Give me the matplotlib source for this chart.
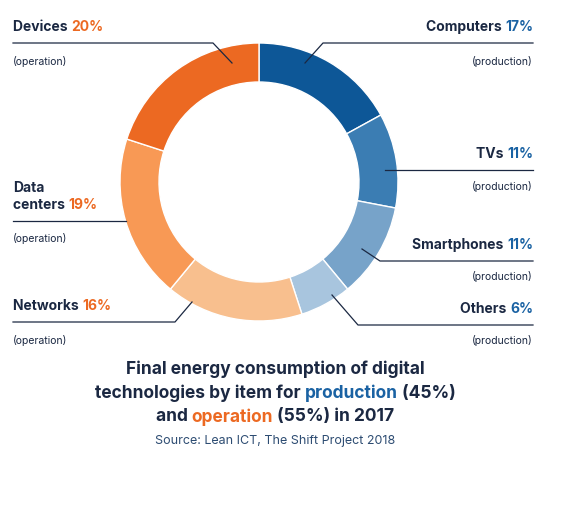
import matplotlib.pyplot as plt

labels = ["Computers", "TVs", "Smartphones", "Others", "Networks", "Data centers", "Devices"]
shares = [17, 11, 11, 6, 16, 19, 20]
kinds = ["production"] * 4 + ["operation"] * 3
colors = ["#0d5797", "#3b7db3", "#77a3c9", "#a8c5de", "#f8bf8e", "#f89955", "#ec6922"]

W, H = 568, 506
NAVY = "#1b2842"
BLUE = "#1a62a3"
ORANGE = "#ec6922"
plt.rcParams["font.family"] = ["Inter", "DejaVu Sans"]

fig = plt.figure(figsize=(W / 100, H / 100), dpi=100)
ax = fig.add_axes([0, 0, 1, 1])
ax.pie(shares, colors=colors, center=(259, H - 183), radius=139, startangle=90,
       counterclock=False, wedgeprops=dict(width=39, edgecolor="white", linewidth=1))
ax.set_xlim(0, W)
ax.set_ylim(0, H)
ax.set_aspect("equal")
ax.axis("off")
renderer = fig.canvas.get_renderer()


def seg_line(x, y, parts, size, ha="left"):
    # draw coloured pieces on one line; x,y in pixel coords from the top-left
    widths = []
    for text, col in parts:
        t = ax.text(0, 0, text, fontsize=size, fontweight="bold")
        widths.append(t.get_window_extent(renderer).width)
        t.remove()
    total = sum(widths)
    start = {"left": x, "right": x - total, "center": x - total / 2}[ha]
    for (text, col), w in zip(parts, widths):
        ax.text(start, H - y, text, fontsize=size, fontweight="bold", color=col,
                va="center", ha="left")
        start += w


def line(pts):
    ax.plot([p[0] for p in pts], [H - p[1] for p in pts], color=NAVY, lw=0.9)


layout = {
    "Computers": (27, 61, [(533, 44), (323, 44), (305, 64)], "right"),
    "TVs": (154, 187, [(533, 171), (385, 171)], "right"),
    "Smartphones": (245, 277, [(533, 262), (380, 262), (362, 250)], "right"),
    "Others": (309, 341, [(533, 326), (358, 326), (332, 296)], "right"),
    "Networks": (306, 340, [(13, 323), (175, 323), (192, 303)], "left"),
    "Data centers": (197, 238, [(13, 222), (126, 222)], "left"),
    "Devices": (27, 61, [(13, 44), (213, 44), (232, 64)], "left"),
}
for name, share, kind in zip(labels, shares, kinds):
    y, ysub, pts, ha = layout[name]
    x = 533 if ha == "right" else 13
    pct = BLUE if kind == "production" else ORANGE
    if name == "Data centers":
        seg_line(x, 188, [("Data", NAVY)], 10)
        seg_line(x, 205, [("centers ", NAVY), (f"{share}%", pct)], 10)
    else:
        seg_line(x, y, [(name + " ", NAVY), (f"{share}%", pct)], 10, ha)
    ax.text(x, H - ysub, f"({kind})", fontsize=7.5, color=NAVY, ha=ha, va="center")
    line(pts)

seg_line(275, 369, [("Final energy consumption of digital", NAVY)], 12.5, "center")
seg_line(275, 393, [("technologies by item for ", NAVY), ("production", BLUE), (" (45%)", NAVY)], 12.5, "center")
seg_line(275, 417, [("and ", NAVY), ("operation", ORANGE), (" (55%) in 2017", NAVY)], 12.5, "center")
ax.text(275, H - 441, "Source: Lean ICT, The Shift Project 2018", fontsize=9, color="#2d4c72",
        ha="center", va="center")

fig.savefig("out.png", dpi=100)
